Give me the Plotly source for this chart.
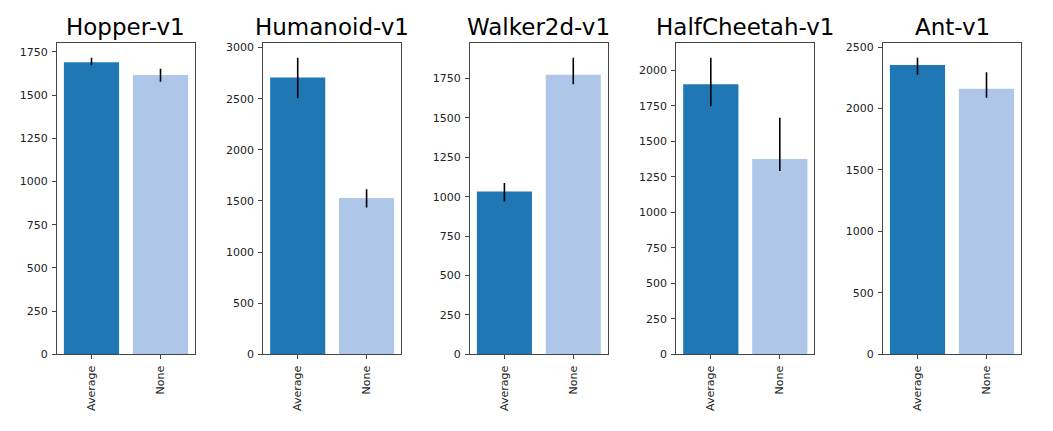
import plotly.graph_objects as go

envs = ["Hopper-v1", "Humanoid-v1", "Walker2d-v1", "HalfCheetah-v1", "Ant-v1"]
methods = ["Average", "None"]
means = [
    [1690, 1617],
    [2707, 1528],
    [1033, 1775],
    [1902, 1375],
    [2354, 2160],
]
upper = [
    [1717, 1653],
    [2902, 1615],
    [1088, 1883],
    [2089, 1665],
    [2414, 2295],
]
lower = [
    [1673, 1578],
    [2506, 1436],
    [970, 1714],
    [1747, 1291],
    [2275, 2087],
]
yticks = [
    [0, 250, 500, 750, 1000, 1250, 1500, 1750],
    [0, 500, 1000, 1500, 2000, 2500, 3000],
    [0, 250, 500, 750, 1000, 1250, 1500, 1750],
    [0, 250, 500, 750, 1000, 1250, 1500, 1750, 2000],
    [0, 500, 1000, 1500, 2000, 2500],
]
colors = ["#1f77b4", "#aec7e8"]

W, H = 1053, 431
H_EFF = 424  # rendered height observed in the viewer
x_px = [(57, 195), (263.3, 401), (470, 607.7), (676.3, 814.3), (883, 1021)]
y_dom = [1 - 354 / H_EFF, 1 - 41 / H_EFF]

fig = go.Figure()
annotations = []
font_fam = "DejaVu Sans"
for i, env in enumerate(envs):
    n = "" if i == 0 else str(i + 1)
    xa = "x" + n
    ya = "y" + n
    fig.add_trace(go.Bar(
        x=[0, 1], y=means[i],
        marker=dict(color=colors, line=dict(width=0)),
        width=0.8,
        error_y=dict(
            type="data", symmetric=False,
            array=[u - m for u, m in zip(upper[i], means[i])],
            arrayminus=[m - l for m, l in zip(means[i], lower[i])],
            color="black", thickness=1.6, width=0,
        ),
        xaxis=xa, yaxis=ya, showlegend=False,
    ))
    dom = [x_px[i][0] / W, x_px[i][1] / W]
    axis_common = dict(
        showline=True, linecolor="#444", linewidth=1, mirror=True,
        ticks="outside", ticklen=4, tickcolor="#444", tickwidth=1,
        showgrid=False, zeroline=False,
        tickfont=dict(family=font_fam, size=11, color="#222"),
    )
    fig.layout["xaxis" + n] = dict(
        domain=dom, anchor=ya, range=[-0.5, 1.5],
        tickmode="array", tickvals=[0, 1], ticktext=methods,
        tickangle=-90, ticklabelstandoff=2, **axis_common,
    )
    ymax = max(upper[i]) * 1.05
    fig.layout["yaxis" + n] = dict(
        domain=y_dom, anchor=xa, range=[0, ymax],
        tickmode="array", tickvals=yticks[i],
        ticktext=[str(v) for v in yticks[i]], ticklabelstandoff=2, **axis_common,
    )
    annotations.append(dict(
        text=env, x=(dom[0] + dom[1]) / 2, y=y_dom[1], xref="paper", yref="paper",
        xanchor="center", yanchor="bottom", showarrow=False, yshift=1,
        font=dict(family=font_fam, size=23, color="black"),
    ))

fig.update_layout(
    width=W, height=H, margin=dict(l=0, r=0, t=0, b=0),
    paper_bgcolor="white", plot_bgcolor="white",
    annotations=annotations, bargap=0.2,
)
fig.write_html("out.html", config={"displayModeBar": False, "responsive": False},
               post_script="document.body.style.margin='0';")
